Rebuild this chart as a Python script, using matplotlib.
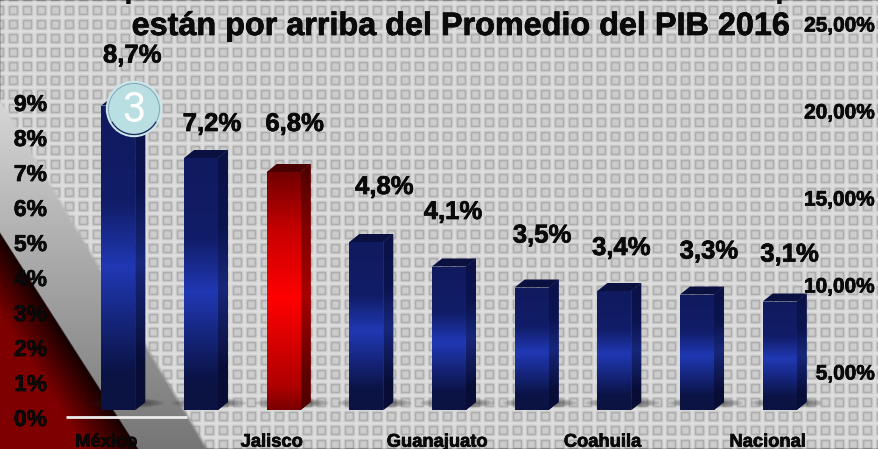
import matplotlib
matplotlib.use("Agg")
import matplotlib.pyplot as plt
from matplotlib.colors import LinearSegmentedColormap
from matplotlib.patches import Polygon, Ellipse, Circle, Arc
import matplotlib.patheffects as pe
import numpy as np

W, H = 879, 449

# data
categorias = ["México", "", "Jalisco", "", "Guanajuato", "", "Coahuila", "", "Nacional"]
valores = [8.7, 7.2, 6.8, 4.8, 4.1, 3.5, 3.4, 3.3, 3.1]
etiquetas = ["8,7%", "7,2%", "6,8%", "4,8%", "4,1%", "3,5%", "3,4%", "3,3%", "3,1%"]
ticks_izq = [0, 1, 2, 3, 4, 5, 6, 7, 8, 9]
ticks_izq_txt = ["0%", "1%", "2%", "3%", "4%", "5%", "6%", "7%", "8%", "9%"]
ticks_der = [5, 10, 15, 20, 25]
ticks_der_txt = ["5,00%", "10,00%", "15,00%", "20,00%", "25,00%"]
titulo = "están por arriba del Promedio del PIB 2016"

# hand placed labels in the original, offsets in px from top of the bar
label_dx = [14, 11, 11, 18, 4, 10.5, 7, 12, 10]
label_dy = [50, 34, 48, 55, 54.5, 52, 43, 43, 47]

FONT = "Liberation Sans"
plt.rcParams["font.family"] = FONT
plt.rcParams["font.weight"] = "bold"
NEGRITA = [pe.withStroke(linewidth=0.5, foreground="black")]

azul = LinearSegmentedColormap.from_list("azul", [
    (0, "#0b1342"), (0.12, "#0b1345"), (0.47, "#2038b4"), (0.68, "#111d68"), (1, "#101a5e")])
azul_lado = LinearSegmentedColormap.from_list("azul_lado", [
    (0, "#080d36"), (0.15, "#080d36"), (0.47, "#17277a"), (0.7, "#0c1450"), (1, "#0b1248")])
rojo = LinearSegmentedColormap.from_list("rojo", [
    (0, "#7a0000"), (0.1, "#b00000"), (0.47, "#ff0000"), (0.75, "#c80000"), (1, "#720000")])
rojo_lado = LinearSegmentedColormap.from_list("rojo_lado", [
    (0, "#500000"), (0.15, "#600000"), (0.47, "#a80000"), (0.75, "#800000"), (1, "#4c0000")])


def px_axes(fig, left, right, top, bottom):
    return fig.add_axes([left / W, 1 - bottom / H, (right - left) / W, (bottom - top) / H])


def fondo():
    # tiled background plus the grey and red wedges of the slide
    t = np.full((14, 14), 0.83)
    t[3:12, 3:12] = 0.60
    t[4:11, 4:11] = 0.80
    t[0, :] = 0.90
    t[:, 0] = 0.90
    img = np.tile(t, (H // 14 + 2, W // 14 + 2))
    img = np.roll(img, (3, 6), axis=(0, 1))[:H, :W]
    k = np.array([0.2, 0.6, 0.2])
    img = np.apply_along_axis(lambda r: np.convolve(r, k, mode="same"), 0, img)
    img = np.apply_along_axis(lambda r: np.convolve(r, k, mode="same"), 1, img)
    rgb = np.dstack([img, img, img])

    yy, xx = np.mgrid[0:H, 0:W]
    # grey wedge
    borde = 100 + xx * (449 - 100) / 207.0
    a = np.clip((yy - borde) / 8.0 + 0.5, 0, 1)[..., None]
    g = (0.84 - 0.38 * np.clip((yy - 100) / 349.0, 0, 1))[..., None]
    rgb = rgb * (1 - a) + g * a
    # red wedge
    borde = 233 + xx * (449 - 233) / 138.0
    d = (yy - borde) / 1.85
    a = np.clip(d / 1.5 + 0.5, 0, 1)[..., None]
    f = np.clip(d / 45.0, 0, 1)
    rojo_f = np.dstack([0.08 + 0.42 * f, 0 * f, 0 * f])
    return rgb * (1 - a) + rojo_f * a


fig = plt.figure(figsize=(W / 100, H / 100), dpi=100)

ax_bg = fig.add_axes([0, 0, 1, 1], zorder=0)
ax_bg.imshow(fondo(), aspect="auto", extent=(0, W, H, 0), interpolation="nearest")
ax_bg.axis("off")

# bars axes: 0% sits at y=410 px, 35 px per point
ax = px_axes(fig, 77, 821, 60, 410)
ax.set_zorder(2)
ax.patch.set_alpha(0)
ax.set_xlim(-0.5, 8.5)
ax.set_ylim(0, 10)
ax.axis("off")

x = np.arange(len(valores))
ancho = 34 / 82.67
dx = 10 / 82.67
dy = 8 / 35.0

for i, v in enumerate(valores):
    es_rojo = categorias[i] == "Jalisco"
    cm, cm_lado = (rojo, rojo_lado) if es_rojo else (azul, azul_lado)
    izq = x[i] - ancho / 2
    der = x[i] + ancho / 2

    # shadow on the floor
    for k in range(6):
        ax.add_patch(Ellipse((x[i] + 0.1, 0.2), (74 - k * 8) / 82.67, (10 - k * 1.3) / 35.0,
                             color="#202020", alpha=0.13, lw=0, zorder=1))

    b = ax.bar(x[i], v, width=ancho, color=cm(0.3), zorder=3)[0]
    grad = np.linspace(1, 0, 256)[:, None]
    im = ax.imshow(grad, cmap=cm, extent=(izq, der, 0, v), aspect="auto", zorder=4, vmin=0, vmax=1)
    im.set_clip_path(b)

    lado = Polygon([(der, 0), (der + dx, dy), (der + dx, v + dy), (der, v)], closed=True,
                   facecolor=cm_lado(0.3), lw=0, zorder=3)
    ax.add_patch(lado)
    im2 = ax.imshow(grad, cmap=cm_lado, extent=(der, der + dx, 0, v + dy), aspect="auto",
                    zorder=4, vmin=0, vmax=1)
    im2.set_clip_path(lado)

    tapa = Polygon([(izq, v), (izq + dx, v + dy), (der + dx, v + dy), (der, v)], closed=True,
                   facecolor="#4a0000" if es_rojo else "#0a1040", lw=0, zorder=4)
    ax.add_patch(tapa)

    ax.annotate(etiquetas[i], (x[i], v), xytext=(label_dx[i] / 1.389, label_dy[i] / 1.389),
                textcoords="offset points", ha="center", va="center", fontsize=18.5,
                color="#0a0a0a", zorder=6, annotation_clip=False, path_effects=NEGRITA)

ax.set_xlim(-0.5, 8.5)
ax.set_ylim(0, 10)

# scale axes is the same chart floor pushed 12 px left and 8 px down
ax_esc = px_axes(fig, 65, 809, 67, 417)
ax_esc.set_zorder(1)
ax_esc.patch.set_alpha(0)
ax_esc.set_xlim(-0.5, 8.5)
ax_esc.set_ylim(0, 10)
ax_esc.set_yticks(ticks_izq)
ax_esc.set_yticklabels(ticks_izq_txt, fontsize=16.5, color="#0a0a0a", path_effects=NEGRITA)
ax_esc.set_xticks(x)
ax_esc.set_xticklabels(categorias, fontsize=13.2, color="#0a0a0a", path_effects=NEGRITA)
ax_esc.tick_params(axis="y", length=0, pad=13)
ax_esc.tick_params(axis="x", length=0, pad=12)
for s in ax_esc.spines.values():
    s.set_visible(False)

# right axis, 17.6 px per point, 5% at y=372
ax_der = px_axes(fig, 65, 875, 24, 372)
ax_der.set_zorder(5)
ax_der.patch.set_alpha(0)
ax_der.set_ylim(5, 25)
ax_der.set_xticks([])
ax_der.yaxis.tick_right()
ax_der.set_yticks(ticks_der)
ax_der.set_yticklabels(ticks_der_txt, fontsize=15, color="#0a0a0a", ha="right", path_effects=NEGRITA)
ax_der.tick_params(axis="y", length=0, pad=0)
for s in ax_der.spines.values():
    s.set_visible(False)

# overlay in pixels: title, badge, floor line
ax_o = fig.add_axes([0, 0, 1, 1], zorder=6)
ax_o.patch.set_alpha(0)
ax_o.set_xlim(0, W)
ax_o.set_ylim(H, 0)
ax_o.axis("off")
ax_o.plot([66, 187], [417, 417], color="#ececec", lw=2, solid_capstyle="butt")
ax_o.text(461, 27, titulo, fontsize=23.3, ha="center", va="center", color="#0a0a0a", path_effects=NEGRITA)
# first title line is cut by the top of the slide, only the descenders show
ax_o.text(134, -3, "p", fontsize=23.3, ha="center", va="baseline", color="#0a0a0a", clip_on=True)
ax_o.text(785, -3, "p", fontsize=23.3, ha="center", va="baseline", color="#0a0a0a", clip_on=True)

ax_o.add_patch(Circle((134, 109), 27.5, facecolor="#b9dfe3", edgecolor="#cfe9ec", lw=1))
ax_o.add_patch(Circle((134, 109), 25.5, facecolor="none", edgecolor="#7f9fb0", lw=0.6))
ax_o.add_patch(Arc((134, 109), 51, 51, theta1=30, theta2=150, edgecolor="#1c2a5e", lw=0.9))
ax_o.text(134, 110, "3", fontsize=30, family="Roboto", weight="normal", color="white",
          ha="center", va="center")

fig.savefig("out.png", dpi=100)
